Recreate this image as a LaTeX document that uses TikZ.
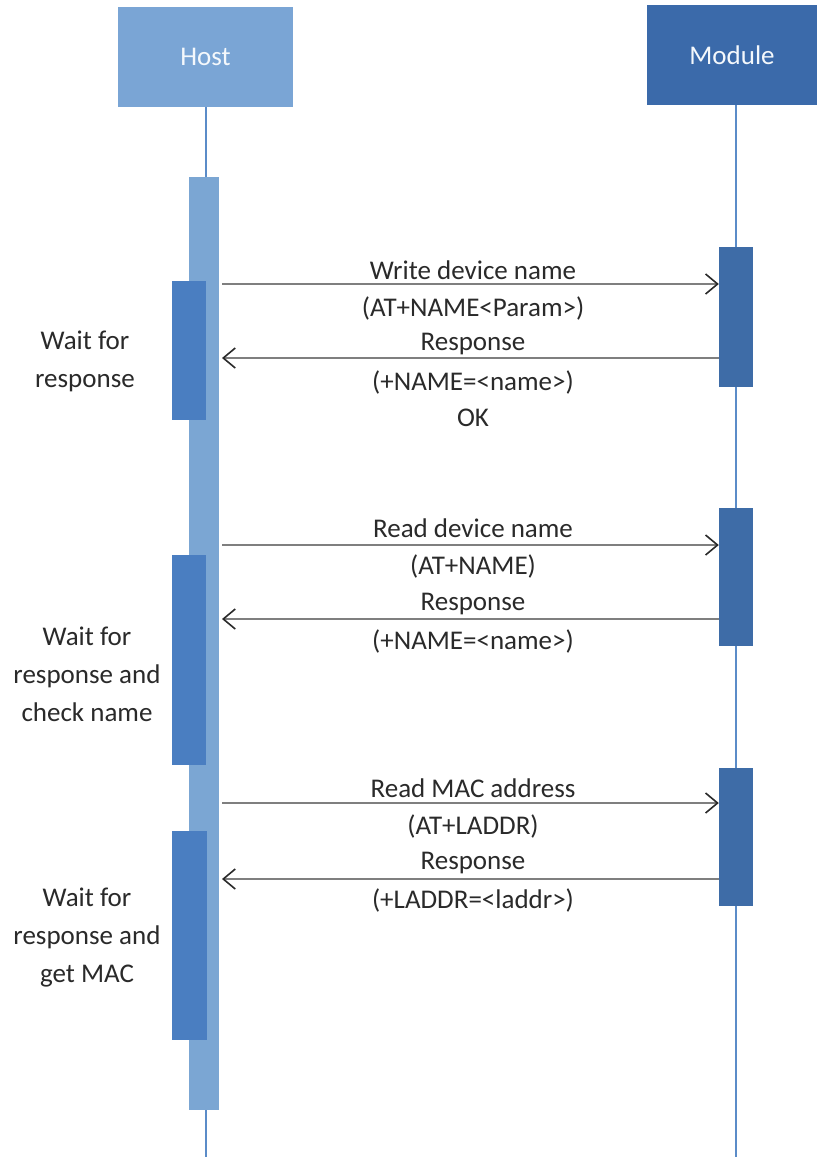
\documentclass[tikz,border=0pt]{standalone}
\usepackage{fontspec}
\setmainfont{Carlito}
\usetikzlibrary{arrows.meta}
\definecolor{hostblue}{HTML}{7AA5D5}
\definecolor{hostbar}{HTML}{7BA6D3}
\definecolor{waitblue}{HTML}{4A7EC1}
\definecolor{modblue}{HTML}{3B6AAA}
\definecolor{modbar}{HTML}{3E6CA7}
\definecolor{lifeline}{HTML}{5B8CC8}
\definecolor{txt}{HTML}{2A2A2A}
\definecolor{arrowgray}{HTML}{7F7F7F}
\tikzset{
  hdr/.style={minimum width=#1, minimum height=100pt, inner sep=0pt, text=white!92!hostblue,
    font=\fontsize{27}{30}\selectfont},
  barbox/.style={draw=none, inner sep=0pt},
  lbl/.style={text=txt, font=\fontsize{27}{38}\selectfont, inner sep=0pt, align=center},
  msg/.style={draw=arrowgray, line width=1.8pt, -{Straight Barb[length=12pt,width=20pt,line width=1.6pt,color=txt]}},
  lifel/.style={draw=lifeline, line width=1.3pt}
}
\begin{document}
\begin{tikzpicture}[x=1pt,y=-1pt]
\useasboundingbox[fill=white] (0,0) rectangle (817,1157);
% headers
\node[hdr=175pt, fill=hostblue] (host) at (205.5,57) {Host};
\node[hdr=170pt, fill=modblue] (module) at (732,55) {Module};
% lifelines
\coordinate (hostend) at (206,1157);
\coordinate (modend) at (736,1157);
\draw[lifel] (host.south -| hostend) -- (hostend);
\draw[lifel] (module.south -| modend) -- (modend);
% host activation bar
\node[barbox, fill=hostbar, minimum width=30pt, minimum height=933pt] (hbar) at (204,643.5) {};
% wait boxes
\node[barbox, fill=waitblue, minimum width=34pt, minimum height=139pt] (wait1) at (189,350.5) {};
\node[barbox, fill=waitblue, minimum width=34pt, minimum height=210pt] (wait2) at (189,660) {};
\node[barbox, fill=waitblue, minimum width=35pt, minimum height=209pt] (wait3) at (189.5,935.5) {};
% module bars
\node[barbox, fill=modbar, minimum width=34pt, minimum height=140pt] (mbar1) at (736,317) {};
\node[barbox, fill=modbar, minimum width=34pt, minimum height=138pt] (mbar2) at (736,577) {};
\node[barbox, fill=modbar, minimum width=34pt, minimum height=138pt] (mbar3) at (736,837) {};
% message anchors on host side
\coordinate (s1) at (222,284);
\coordinate (r1) at (222,358);
\coordinate (s2) at (222,545);
\coordinate (r2) at (222,619);
\coordinate (s3) at (222,803);
\coordinate (r3) at (222,879);
% messages
\draw[msg] (s1) -- (mbar1.west |- s1);
\draw[msg] (mbar1.west |- r1) -- (r1);
\draw[msg] (s2) -- (mbar2.west |- s2);
\draw[msg] (mbar2.west |- r2) -- (r2);
\draw[msg] (s3) -- (mbar3.west |- s3);
\draw[msg] (mbar3.west |- r3) -- (r3);
% message labels
\node[lbl] (t1a) at (473,270) {Write device name};
\node[lbl] (t1b) at (473,308) {(AT+NAME<Param>)};
\node[lbl] (t1c) at (473,344) {Response};
\node[lbl] (t1d) at (473,382) {(+NAME=<name>)};
\node[lbl] (t1e) at (473,418) {OK};
\node[lbl] (t2a) at (473,528) {Read device name};
\node[lbl] (t2b) at (473,566) {(AT+NAME)};
\node[lbl] (t2c) at (473,604) {Response};
\node[lbl] (t2d) at (473,641) {(+NAME=<name>)};
\node[lbl] (t3a) at (473,788) {Read MAC address};
\node[lbl] (t3b) at (473,826) {(AT+LADDR)};
\node[lbl] (t3c) at (473,863) {Response};
\node[lbl] (t3d) at (473,900) {(+LADDR=<laddr>)};
% wait labels
\node[lbl, anchor=north] (w1) at (85,331) {Wait for\\response};
\node[lbl, anchor=north] (w2) at (87,627) {Wait for\\response and\\check name};
\node[lbl, anchor=north] (w3) at (87,888) {Wait for\\response and\\get MAC};
\end{tikzpicture}
\end{document}
